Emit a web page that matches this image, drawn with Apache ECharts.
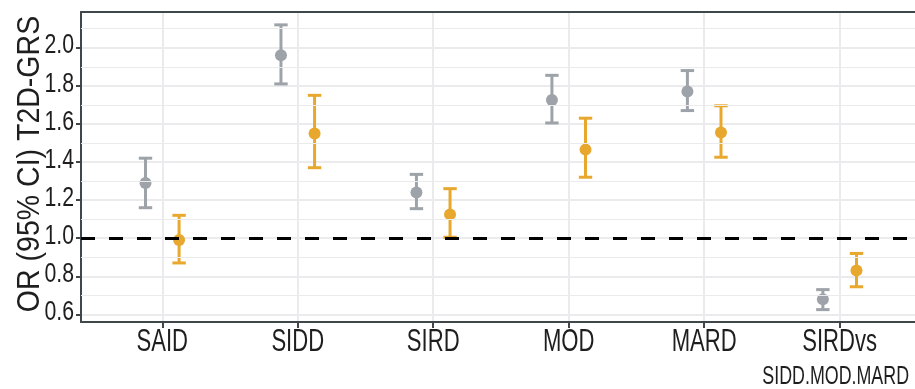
<!DOCTYPE html>
<html>
<head>
<meta charset="utf-8">
<script src="https://cdn.jsdelivr.net/npm/echarts@6/dist/echarts.min.js"></script>
<style>html,body{margin:0;padding:0;background:#fff}#c{width:915px;height:389px}</style>
</head>
<body>
<div id="c"></div>
<script>
// ---- data ----
const categories = ['SAID', 'SIDD', 'SIRD', 'MOD', 'MARD', 'SIRDvs\nSIDD.MOD.MARD'];
const greyOR = [1.29, 1.96, 1.24, 1.725, 1.77, 0.68];
const greyLo = [1.16, 1.81, 1.155, 1.605, 1.67, 0.625];
const greyHi = [1.42, 2.12, 1.335, 1.855, 1.88, 0.73];
const orangeOR = [0.99, 1.55, 1.125, 1.465, 1.555, 0.83];
const orangeLo = [0.87, 1.37, 1.005, 1.32, 1.425, 0.745];
const orangeHi = [1.12, 1.75, 1.26, 1.63, 1.695, 0.92];
const yTicks = [0.6, 0.8, 1.0, 1.2, 1.4, 1.6, 1.8, 2.0];
const yMinor = [0.7, 0.9, 1.1, 1.3, 1.5, 1.7, 1.9, 2.1];
const refLine = 1.0;
const yTitle = 'OR (95% CI) T2D-GRS';

// ---- style ----
const GREY = '#9ea3a9';
const ORANGE = '#e8a82e';
const AXIS = '#40474a';
const GRID = '#ebebed';
const TEXT = '#1e1e1e';
const FONT = '"Liberation Sans", Arial, sans-serif';
const DODGE = 0.124;
const X_MIN = 0.4, X_MAX = 6.556;   // visible x range (panel is cut at the right edge)
const Y_MIN = 0.56, Y_MAX = 2.1875;
const catPos = categories.map((c, i) => i + 1);

function errData(lo, hi, off) { return catPos.map((p, i) => [p + off, lo[i], hi[i]]); }
function ptData(v, off) { return catPos.map((p, i) => [p + off, v[i]]); }

function errSeries(lo, hi, off, color) {
  return {
    type: 'custom', z: 3, silent: true, clip: true,
    data: errData(lo, hi, off),
    encode: { x: 0, y: [1, 2] },
    renderItem: function (params, api) {
      const x = api.value(0);
      const a = api.coord([x, api.value(1)]);
      const b = api.coord([x, api.value(2)]);
      const hw = 6.7, st = { stroke: color, lineWidth: 3 };
      return { type: 'group', children: [
        { type: 'line', shape: { x1: a[0], y1: a[1], x2: b[0], y2: b[1] }, style: st },
        { type: 'line', shape: { x1: a[0] - hw, y1: a[1], x2: a[0] + hw, y2: a[1] }, style: st },
        { type: 'line', shape: { x1: b[0] - hw, y1: b[1], x2: b[0] + hw, y2: b[1] }, style: st }
      ]};
    }
  };
}

const chart = echarts.init(document.getElementById('c'), null, { renderer: 'canvas' });
chart.setOption({
  backgroundColor: '#ffffff',
  animation: false,
  grid: { left: 81, top: 12, right: 0, bottom: 67, outerBoundsMode: 'none', containLabel: false, show: false },
  xAxis: [{
    type: 'value', min: X_MIN, max: X_MAX,
    axisLine: { show: true, onZero: false, lineStyle: { color: AXIS, width: 2 } },
    axisTick: { show: true, length: 6, lineStyle: { color: AXIS, width: 2 }, customValues: catPos },
    axisLabel: { show: false },
    splitLine: { show: true, lineStyle: { color: GRID, width: 2 } }
  }, {
    type: 'value', position: 'top', min: X_MIN, max: X_MAX,
    axisLine: { show: true, onZero: false, lineStyle: { color: AXIS, width: 2 } },
    axisTick: { show: false }, axisLabel: { show: false }, splitLine: { show: false }
  }],
  yAxis: {
    type: 'value', min: Y_MIN, max: Y_MAX,
    axisLine: { show: true, onZero: false, lineStyle: { color: AXIS, width: 2 } },
    axisTick: { show: true, length: 5, lineStyle: { color: AXIS, width: 2 }, customValues: yTicks },
    axisLabel: { show: false },
    splitLine: { show: true, lineStyle: { color: GRID, width: 2 } }
  },
  series: [
    { type: 'line', data: [], silent: true, z: 1,
      markLine: { silent: true, symbol: 'none', label: { show: false },
        lineStyle: { color: GRID, width: 1, type: 'solid' },
        data: yMinor.map(v => ({ yAxis: v })) } },
    errSeries(greyLo, greyHi, -DODGE, GREY),
    errSeries(orangeLo, orangeHi, DODGE, ORANGE),
    { type: 'scatter', z: 4, symbol: 'circle', symbolSize: 12, data: ptData(greyOR, -DODGE), itemStyle: { color: GREY, opacity: 1 } },
    { type: 'scatter', z: 4, symbol: 'circle', symbolSize: 12, data: ptData(orangeOR, DODGE), itemStyle: { color: ORANGE, opacity: 1 } },
    { type: 'line', data: [], silent: true, z: 5,
      markLine: { silent: true, symbol: 'none', label: { show: false },
        lineStyle: { color: '#000000', width: 3, type: [14, 14], cap: 'butt' },
        data: [{ yAxis: refLine }] } }
  ]
});

// ---- axis texts (condensed look via scaleX), placed through the chart's own scales ----
const graphics = [];
const axisY = chart.convertToPixel({ gridIndex: 0 }, [X_MIN, Y_MIN])[1];
categories.forEach((c, i) => {
  const px = chart.convertToPixel({ gridIndex: 0 }, [catPos[i], Y_MIN])[0];
  const lines = c.split('\n');
  graphics.push({ type: 'text', x: px, y: axisY + 20.5, scaleX: 0.69, silent: true,
    style: { text: lines[0], font: '32px ' + FONT, fill: TEXT, align: 'center', verticalAlign: 'middle' } });
  if (lines[1]) {
    graphics.push({ type: 'text', x: px - 4, y: axisY + 55, scaleX: 0.70, silent: true,
      style: { text: lines[1], font: '25.5px ' + FONT, fill: TEXT, align: 'center', verticalAlign: 'middle' } });
  }
});
yTicks.forEach(v => {
  const p = chart.convertToPixel({ gridIndex: 0 }, [X_MIN, v]);
  graphics.push({ type: 'text', x: p[0] - 7, y: p[1] - 2, scaleX: 0.76, silent: true,
    style: { text: v.toFixed(1), font: '28px ' + FONT, fill: TEXT, align: 'right', verticalAlign: 'middle' } });
});
const midY = (chart.convertToPixel({ gridIndex: 0 }, [X_MIN, Y_MIN])[1] + chart.convertToPixel({ gridIndex: 0 }, [X_MIN, Y_MAX])[1]) / 2;
graphics.push({ type: 'text', x: 30, y: midY - 3, rotation: Math.PI / 2, scaleX: 0.92, silent: true,
  style: { text: yTitle, font: '31px ' + FONT, fill: TEXT, align: 'center', verticalAlign: 'middle' } });
chart.setOption({ graphic: graphics });
</script>
</body>
</html>
